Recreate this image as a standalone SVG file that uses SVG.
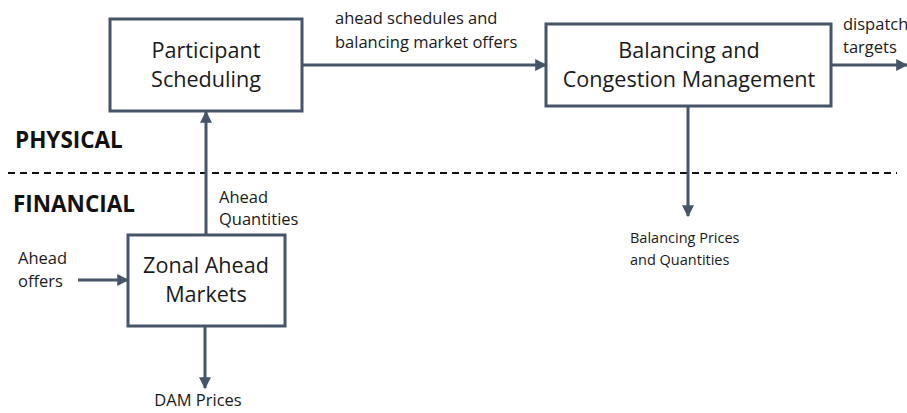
<svg xmlns="http://www.w3.org/2000/svg" width="907" height="413" viewBox="0 0 907 413">
<defs>
<style>
.box{fill:#ffffff;stroke:#475569;stroke-width:3}
.node{font-family:"Open Sans","Noto Sans",sans-serif;font-size:21.6px;fill:#1a1a1a;text-anchor:middle}
.lbl{font-family:"Open Sans","Noto Sans",sans-serif;font-size:16.5px;fill:#1a1a1a}
.sm{font-size:14.5px}
.zone{font-family:"Open Sans","Noto Sans",sans-serif;font-size:22.5px;font-weight:bold;fill:#111111}
.con{stroke:#475569;stroke-width:3;fill:none}
</style>
<marker id="arr" viewBox="0 0 10 10" refX="9" refY="5" markerWidth="4" markerHeight="4" orient="auto" markerUnits="strokeWidth">
<path d="M0,0 L10,5 L0,10 z" fill="#475569"/>
</marker>
</defs>
<rect width="907" height="413" fill="#ffffff"/>
<line x1="8" y1="173" x2="897" y2="173" stroke="#111111" stroke-width="2" stroke-dasharray="7,5"/>
<text class="zone" x="15" y="148">PHYSICAL</text>
<text class="zone" x="13" y="212">FINANCIAL</text>
<g id="connectors">
<line class="con" x1="302" y1="65" x2="546" y2="65" marker-end="url(#arr)"/>
<line class="con" x1="831" y1="65" x2="907" y2="65" marker-end="url(#arr)"/>
<line class="con" x1="688" y1="106" x2="688" y2="216" marker-end="url(#arr)"/>
<line class="con" x1="206" y1="235" x2="206" y2="112" marker-end="url(#arr)"/>
<line class="con" x1="78" y1="280" x2="128" y2="280" marker-end="url(#arr)"/>
<line class="con" x1="205" y1="326" x2="205" y2="388" marker-end="url(#arr)"/>
<text class="lbl" x="335" y="24">ahead schedules and</text>
<text class="lbl" x="335" y="48">balancing market offers</text>
<text class="lbl" x="843" y="30" font-size="15.5">dispatch</text>
<text class="lbl" x="843" y="53" font-size="15.5">targets</text>
<text class="lbl sm" x="630" y="243">Balancing Prices</text>
<text class="lbl sm" x="630" y="265">and Quantities</text>
<text class="lbl" x="219" y="203">Ahead</text>
<text class="lbl" x="219" y="225">Quantities</text>
<text class="lbl" x="18" y="264">Ahead</text>
<text class="lbl" x="18" y="287">offers</text>
<text class="lbl" x="198" y="406" text-anchor="middle">DAM Prices</text>
</g>
<g id="participant">
<rect class="box" x="110" y="19" width="192" height="92"/>
<text class="node" x="206" y="58">Participant</text>
<text class="node" x="206" y="87">Scheduling</text>
</g>
<g id="balancing">
<rect class="box" x="546" y="24" width="285" height="82"/>
<text class="node" x="689" y="58">Balancing and</text>
<text class="node" x="689" y="87">Congestion Management</text>
</g>
<g id="zonal">
<rect class="box" x="128" y="235" width="157" height="91"/>
<text class="node" x="206" y="273">Zonal Ahead</text>
<text class="node" x="206" y="302">Markets</text>
</g>
</svg>
